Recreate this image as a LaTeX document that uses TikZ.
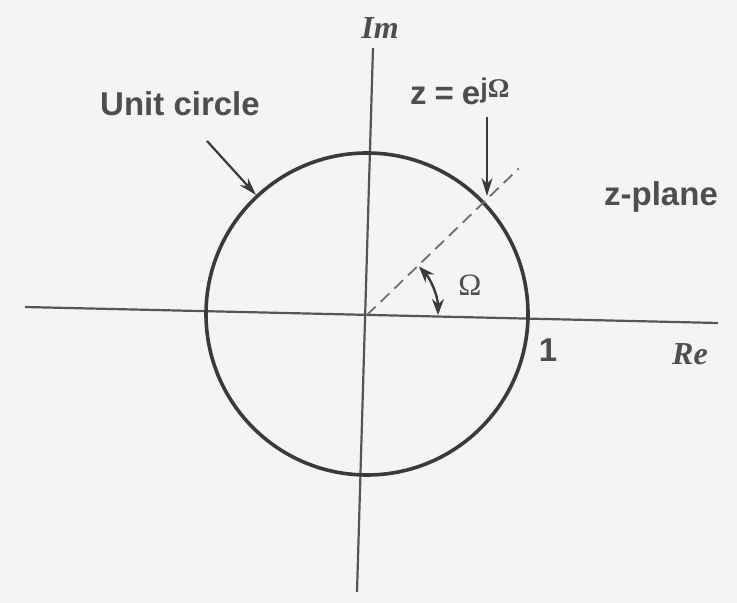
\documentclass[tikz,border=0pt]{standalone}
\usepackage{fontspec}
\setmainfont{Liberation Sans}
\newfontfamily\serifit{Liberation Serif}
\usetikzlibrary{arrows.meta,calc}
\definecolor{ink}{HTML}{3A3A3A}
\definecolor{axisc}{HTML}{555555}
\definecolor{txt}{HTML}{4E4E4E}
\definecolor{bg}{HTML}{F3F5F3}
\begin{document}
\begin{tikzpicture}[x=1pt,y=1pt,
  axis/.style={draw=axisc,line width=2.2pt},
  lbl/.style={text=txt,font=\fontsize{33}{36}\selectfont\bfseries,inner sep=0pt},
  axlbl/.style={text=txt,font=\fontsize{32}{36}\selectfont\serifit\bfseries\itshape,inner sep=0pt},
  pointer/.style={draw=ink,line width=2.2pt,-{Stealth[length=18pt,width=11pt]}},
  ray/.style={draw=axisc!85,line width=1.8pt,dash pattern=on 12pt off 7pt}]
\fill[bg] (0,0) rectangle (737,603);
\useasboundingbox (0,0) rectangle (737,603);
% axes
\coordinate (hl) at (25,296);
\coordinate (hr) at (718,280);
\coordinate (vt) at (373,555);
\coordinate (vb) at (357,11);
\coordinate (O) at (367,288);
\draw[axis] (hl) -- (hr);
\draw[axis] (vb) -- (vt);
% unit circle
\node[circle,draw=ink,line width=3.6pt,minimum size=322pt,inner sep=0pt] (uc) at (367,289) {};
% ray
\coordinate (rayend) at ($(O)+(44:211)$);
\draw[ray] (O) -- (rayend);
% angle arc
\draw[draw=ink,line width=2.4pt,{Stealth[length=16pt,width=12pt]}-{Stealth[length=16pt,width=12pt]}]
  ($(O)+(0:71)$) arc[start angle=0,end angle=43,radius=71];
% labels
\node[lbl] (ulbl) at (180,499) {Unit circle};
\coordinate (uarrs) at (207,462);
\draw[pointer] (uarrs) -- (uc.133);
\node[lbl,anchor=base west] (zlbl) at (410,498) {z\hspace{8pt}=\hspace{8pt}e\raisebox{7pt}{\fontsize{27}{30}\selectfont j{\serifit Ω}}};
\coordinate (zarrs) at (487,486);
\coordinate (ztip) at (487,407);
\draw[pointer] (zarrs) -- (ztip);
\node[lbl] (zpl) at (661,406) {z-plane};
\node[lbl,font=\fontsize{31}{34}\selectfont\serifit] (om) at (470,318) {Ω};
\node[lbl] (one) at (548,253) {1};
\node[axlbl] (re) at (690,249) {Re};
\node[axlbl] (im) at (380,575) {Im};
\end{tikzpicture}
\end{document}
